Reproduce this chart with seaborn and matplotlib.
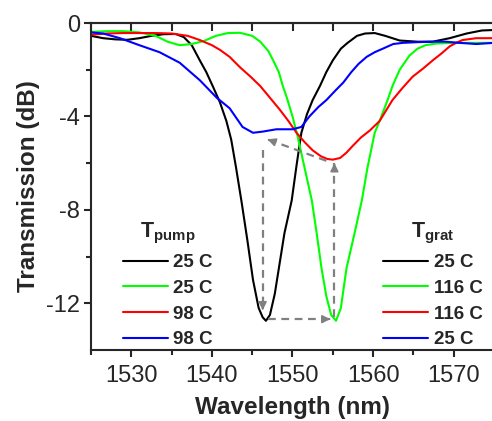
import pandas as pd
import matplotlib.pyplot as plt
import seaborn as sns
from matplotlib.lines import Line2D

# curve data (wavelength in nm, transmission in dB)
black_wl = [1525, 1526.5, 1528, 1529.5, 1531, 1532.5, 1534, 1535.5, 1536.5, 1537.5,
            1538.5, 1539.3, 1540.1, 1541, 1541.8, 1542.4, 1543.0, 1543.7, 1544.4, 1545.1,
            1545.8, 1546.3, 1546.7, 1547.2, 1547.8, 1548.4, 1549.0, 1549.9, 1550.5, 1551.1,
            1551.8, 1552.5, 1553.4, 1554.2, 1555, 1556, 1556.8, 1558, 1559, 1560.2,
            1561.5, 1563.3, 1565.5, 1567.4, 1569.5, 1571.6, 1573.5, 1575]
black_db = [-0.55, -0.65, -0.7, -0.72, -0.65, -0.55, -0.48, -0.47, -0.6, -0.95,
            -1.6, -2.1, -2.7, -3.4, -4.2, -5.0, -6.2, -7.7, -9.3, -11.0,
            -12.2, -12.6, -12.75, -12.5, -11.6, -10.3, -9.0, -7.6, -6.1, -4.7,
            -3.9, -3.3, -2.7, -2.1, -1.6, -1.1, -0.86, -0.55, -0.45, -0.43,
            -0.55, -0.75, -0.8, -0.8, -0.65, -0.45, -0.32, -0.3]

green_wl = [1525, 1527, 1529, 1531, 1533, 1534.5, 1536, 1537.5, 1539, 1540.5,
            1542, 1543.5, 1545, 1546, 1547, 1547.6, 1548.3, 1548.8, 1549.3, 1550.0,
            1550.6, 1551.5, 1552.4, 1553.0, 1553.6, 1554.2, 1554.8, 1555.4, 1556.0, 1556.7,
            1557.7, 1558.6, 1559.3, 1560.2, 1560.8, 1561.8, 1562.4, 1563.3, 1564.5, 1565.5,
            1566.5, 1567.8, 1570, 1572, 1575]
green_db = [-0.38, -0.35, -0.35, -0.4, -0.55, -0.8, -0.95, -0.9, -0.77, -0.55,
            -0.43, -0.42, -0.55, -0.8, -1.2, -1.6, -2.1, -2.7, -3.2, -4.0,
            -4.8, -6.2, -7.6, -9.0, -10.5, -11.7, -12.5, -12.75, -12.2, -10.5,
            -9.0, -7.6, -6.2, -4.7, -4.2, -3.3, -2.7, -2.0, -1.4, -1.1,
            -0.95, -0.88, -0.85, -0.85, -0.85]

red_wl = [1525, 1527, 1529, 1531, 1533, 1535, 1537, 1538.5, 1540, 1541,
          1542.2, 1543.5, 1544.8, 1546, 1547.2, 1548.4, 1549.5, 1550.5, 1551.5, 1552.5,
          1553.5, 1554.3, 1555, 1555.9, 1556.7, 1557.5, 1558.5, 1559.6, 1560.8, 1562.4,
          1563.6, 1564.9, 1566.2, 1567.4, 1568.5, 1569.5, 1570.3, 1571.1, 1572.8, 1575]
red_db = [-0.5, -0.45, -0.43, -0.43, -0.43, -0.45, -0.55, -0.73, -0.95, -1.15,
          -1.45, -1.9, -2.3, -2.7, -3.2, -3.7, -4.2, -4.7, -5.1, -5.45,
          -5.7, -5.82, -5.85, -5.78, -5.55, -5.25, -4.9, -4.6, -4.2, -3.3,
          -2.8, -2.3, -1.95, -1.6, -1.3, -1.0, -0.85, -0.73, -0.65, -0.65]

blue_wl = [1525, 1526.5, 1528.6, 1531, 1533.5, 1536, 1538.5, 1540.6, 1542.2, 1543.8,
           1545.1, 1546.3, 1548, 1550, 1551.1, 1552.1, 1553.2, 1554.2, 1555.3, 1556.3,
           1557.3, 1558.2, 1559.2, 1560.2, 1561.2, 1562.5, 1563.7, 1565.5, 1567.4, 1569,
           1570.7, 1572.8, 1575]
blue_db = [-0.4, -0.45, -0.65, -0.95, -1.25, -1.7, -2.45, -3.2, -3.65, -4.45,
           -4.7, -4.65, -4.55, -4.55, -4.45, -4.0, -3.6, -3.3, -2.9, -2.55,
           -2.1, -1.75, -1.45, -1.25, -1.1, -0.9, -0.85, -0.82, -0.8, -0.8,
           -0.85, -0.9, -0.85]

curve_names = ['black', 'green', 'red', 'blue']
curve_colors = ['#000000', '#00ff00', '#ff0000', '#0000ff']
pump_labels = ['25 C', '25 C', '98 C', '98 C']
grat_labels = ['25 C', '116 C', '116 C', '25 C']

# dashed gray arrows (start, end) in data coords
arrow_starts = [(1546.3, -5.45), (1547.0, -12.68), (1555.2, -12.6), (1554.2, -5.9)]
arrow_ends = [(1546.3, -12.3), (1554.7, -12.68), (1555.2, -6.0), (1546.9, -4.98)]

frames = []
for name, wl, db in [('black', black_wl, black_db), ('green', green_wl, green_db),
                     ('red', red_wl, red_db), ('blue', blue_wl, blue_db)]:
    frames.append(pd.DataFrame({'wl': wl, 'db': db, 'curve': name}))
df = pd.concat(frames, ignore_index=True)

sns.set_style('ticks')
plt.rcParams['font.family'] = ['Liberation Sans', 'DejaVu Sans']
plt.rcParams['mathtext.fontset'] = 'custom'
plt.rcParams['mathtext.rm'] = 'Liberation Sans'
plt.rcParams['mathtext.bf'] = 'Liberation Sans:bold'
plt.rcParams['axes.unicode_minus'] = False

fig = plt.figure(figsize=(4.92, 4.21), dpi=100)
ax = fig.add_axes([91 / 492, 71 / 421, 403 / 492, 327 / 421])

sns.lineplot(data=df, x='wl', y='db', hue='curve', hue_order=curve_names,
             palette=dict(zip(curve_names, curve_colors)), estimator=None,
             sort=False, legend=False, lw=1.5, ax=ax)

for (x0, y0), (x1, y1) in zip(arrow_starts, arrow_ends):
    ax.plot([x0, x1], [y0, y1], color='#808080', lw=1.6, dashes=(3.5, 2.5))
    ax.annotate('', xy=(x1, y1), xytext=(x1 - (x1 - x0) * 0.02, y1 - (y1 - y0) * 0.02),
                arrowprops=dict(arrowstyle='-|>', color='#808080', lw=1.2,
                                mutation_scale=12, shrinkA=0, shrinkB=0))

ax.set_xlim(1525, 1575)
ax.set_ylim(-14, 0)
ax.set_xticks([1530, 1540, 1550, 1560, 1570])
ax.set_xticks([1525, 1535, 1545, 1555, 1565, 1575], minor=True)
ax.set_yticks([0, -4, -8, -12])
ax.set_yticks([-2, -6, -10], minor=True)
ax.tick_params(which='major', direction='out', length=5, width=1.5, labelsize=17, pad=3)
ax.tick_params(axis='x', which='major', pad=6)
ax.tick_params(which='minor', direction='out', length=3.5, width=1.5)
for s in ax.spines.values():
    s.set_linewidth(1.5)
ax.spines['right'].set_visible(False)

top = ax.secondary_xaxis('top')
top.set_xticks([1530, 1540, 1550, 1560, 1570])
top.set_xticks([1525, 1535, 1545, 1555, 1565, 1575], minor=True)
top.tick_params(which='both', direction='in', length=5.5, width=1.5, labeltop=False)
top.spines['top'].set_linewidth(1.5)

ax.set_xlabel('Wavelength (nm)', fontsize=17.5, fontweight='bold', labelpad=6)
ax.set_ylabel('Transmission (dB)', fontsize=17.5, fontweight='bold', labelpad=4)

handles = [Line2D([], [], color=c, lw=1.5) for c in curve_colors]
leg_kw = dict(frameon=False, loc='upper left', prop={'weight': 'bold', 'size': 13.5},
              title_fontsize=15.5, handlelength=2.4, handletextpad=0.3,
              labelspacing=0.45, borderpad=0, borderaxespad=0)
leg1 = ax.legend(handles, pump_labels, title=r'$\mathbf{T}_{\mathbf{pump}}$',
                 bbox_to_anchor=(0.079, 0.395), **leg_kw)
ax.add_artist(leg1)
ax.legend(handles, grat_labels, title=r'$\mathbf{T}_{\mathbf{grat}}$',
          bbox_to_anchor=(0.725, 0.395), **leg_kw)

fig.savefig('out.png', dpi=100)
